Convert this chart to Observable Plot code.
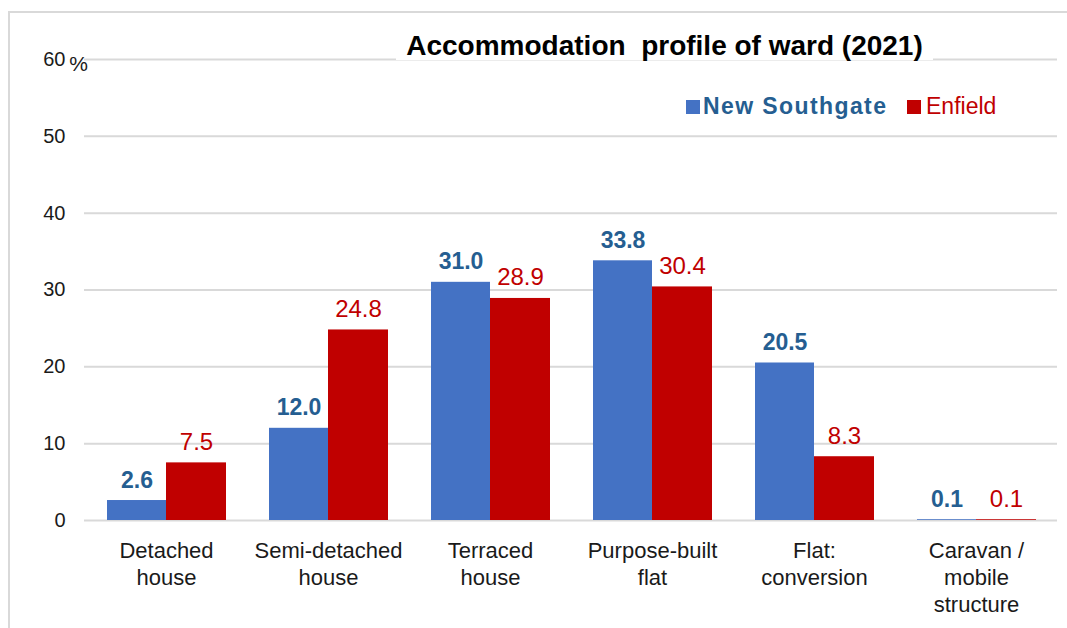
<!DOCTYPE html>
<html><head><meta charset="utf-8">
<script src="https://cdn.jsdelivr.net/npm/d3@7"></script>
<script src="https://cdn.jsdelivr.net/npm/@observablehq/plot@0.6"></script>
<style>
body{margin:0;background:#fff;font-family:"Liberation Sans",Arial,sans-serif;}
#wrap{position:relative;width:1067px;height:628px;overflow:hidden;background:#fff;}
#frame{position:absolute;left:8px;top:11px;width:1100px;height:700px;border-top:2px solid #d9d9d9;border-left:2px solid #d9d9d9;box-sizing:border-box;}
#chart{position:absolute;left:0;top:0;}
#title{position:absolute;left:396px;top:32px;width:537px;line-height:28px;font-size:28px;font-weight:bold;text-align:center;background:#fff;color:#000;white-space:pre;}
.lg{position:absolute;top:94.5px;font-size:23px;line-height:23px;white-space:nowrap;}
.sw{position:absolute;top:100px;width:14px;height:14px;}
</style>
</head><body>
<div id="wrap">
  <div id="frame"></div>
  <div id="chart"></div>
  <div id="title"></div>
  <div class="sw" id="sw0" style="left:686px;"></div>
  <div class="lg" id="lg0" style="left:703px;font-weight:bold;letter-spacing:1.4px;"></div>
  <div class="sw" id="sw1" style="left:907px;"></div>
  <div class="lg" id="lg1" style="left:926px;"></div>
</div>
<script>
const titleText = "Accommodation  profile of ward (2021)";
const categories = ["Detached house","Semi-detached house","Terraced house","Purpose-built flat","Flat: conversion","Caravan / mobile structure"];
const categoryLines = ["Detached\nhouse","Semi-detached\nhouse","Terraced\nhouse","Purpose-built\nflat","Flat:\nconversion","Caravan /\nmobile\nstructure"];
const seriesNames = ["New Southgate","Enfield"];
const seriesColors = ["#4472C4","#C00000"];
const labelColors = ["#255E91","#C00000"];
const newSouthgate = [2.6,12.0,31.0,33.8,20.5,0.1];
const enfield = [7.5,24.8,28.9,30.4,8.3,0.1];
const yTicks = [0,10,20,30,40,50,60];

const rows = categories.map((c,i)=>({category:c, ns:newSouthgate[i], en:enfield[i]}));
const labelOf = new Map(categories.map((c,i)=>[c,categoryLines[i]]));

document.getElementById("title").textContent = titleText;
seriesNames.forEach((s,i)=>{
  document.getElementById("lg"+i).textContent = s;
  document.getElementById("lg"+i).style.color = labelColors[i];
  document.getElementById("sw"+i).style.background = seriesColors[i];
});

const chart = Plot.plot({
  width:1067, height:628,
  marginLeft:84, marginRight:10, marginTop:59, marginBottom:108,
  style:{fontFamily:"'Liberation Sans', Arial, sans-serif", background:"transparent", color:"#1a1a1a"},
  x:{domain:categories, padding:0, label:null},
  y:{domain:[0,60], label:null},
  marks:[
    Plot.ruleY(yTicks,{stroke:"#d9d9d9", strokeWidth:2}),
    Plot.barY(rows,{x:"category", y:"ns", fill:seriesColors[0], insetLeft:22, insetRight:81}),
    Plot.barY(rows,{x:"category", y:"en", fill:seriesColors[1], insetLeft:81, insetRight:21}),
    Plot.text(rows,{x:"category", y:"ns", text:d=>d.ns.toFixed(1), dx:-29.5, dy:-13, lineAnchor:"bottom", fill:labelColors[0], fontWeight:"bold", fontSize:23}),
    Plot.text(rows,{x:"category", y:"en", text:d=>d.en.toFixed(1), dx:30, dy:-13, lineAnchor:"bottom", fill:labelColors[1], fontSize:24}),
    Plot.axisY({ticks:yTicks, tickSize:0, tickPadding:19, fontSize:20, tickFormat:d=>String(d), label:null}),
    Plot.text(["%"],{frameAnchor:"top-left", text:d=>d, dx:-6, dy:5, fontSize:21, textAnchor:"middle", lineAnchor:"middle"}),
    Plot.axisX({tickSize:0, tickPadding:18, fontSize:22, lineHeight:1.23, tickFormat:c=>labelOf.get(c), label:null, textOverflow:null})
  ]
});
document.getElementById("chart").appendChild(chart);
</script>
</body></html>
